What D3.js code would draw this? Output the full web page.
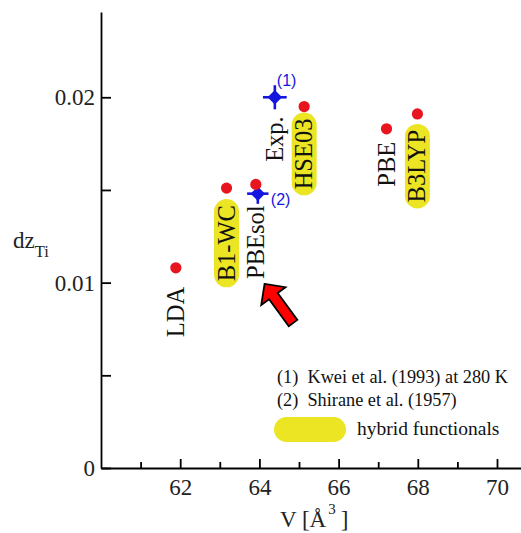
<!DOCTYPE html>
<html>
<head>
<meta charset="utf-8">
<script src="https://cdn.jsdelivr.net/npm/d3@7"></script>
<style>
  body { margin: 0; background: #fff; }
  svg { display: block; font-family: 'Liberation Serif', 'Times New Roman', serif; }
  .axis path, .axis line { stroke: #000; stroke-width: 1.8; }
  .axis text { font-family: 'Liberation Serif', serif; font-size: 23px; fill: #222; }
  .flabel { font-size: 24.5px; fill: #111; }
  .legend text { font-size: 18.3px; fill: #111; }
  .ref { font-family: 'Liberation Sans', Arial, sans-serif; font-size: 16px; fill: #1515e0; }
</style>
</head>
<body>
<svg width="521" height="533"></svg>
<script>
// calculated values, one per functional
const functionals = ['LDA', 'B1-WC', 'PBEsol', 'HSE03', 'PBE', 'B3LYP'];
const volumes = [61.89, 63.17, 63.91, 65.13, 67.21, 67.99];
const dzTi = [0.0108, 0.0151, 0.0153, 0.0195, 0.0183, 0.0191];
const isHybrid = [false, true, false, true, false, true];

// experiment
const expRefs = ['(1)', '(2)'];
const expVolumes = [64.39, 63.96];
const expDz = [0.0200, 0.0148];
const expVolErr = [0.3, 0.27];
const expDzErr = [0.00065, 0.00055];

const legendRefs = ['(1)  Kwei et al. (1993) at 280 K', '(2)  Shirane et al. (1957)'];

const xMajorTicks = [62, 64, 66, 68, 70];
const xMinorTicks = [61, 63, 65, 67, 69];
const yMajorTicks = [0, 0.01, 0.02];
const yMinorTicks = [0.005, 0.015];

// arrow pointing at PBEsol, [volume, dz] of tip and tail
const arrowTip = [64.13, 0.00993];
const arrowTail = [64.85, 0.00782];

// layout: gap (px) between a dot and the top of its label
const labelGap = [19, 17, 21, 12, 13, 16];

const svg = d3.select('svg');
const red = '#e8141e', blue = '#1515e0', yellow = '#ebe524';

const x = d3.scaleLinear().domain([60, 71]).range([101, 536.6]);
const y = d3.scaleLinear().domain([0, 0.0246]).range([468, 12]);

// axes, ticks inside
svg.append('g')
  .attr('class', 'axis')
  .attr('transform', 'translate(0,468)')
  .call(d3.axisBottom(x).tickValues(xMajorTicks).tickSizeInner(-9).tickSizeOuter(0).tickPadding(11).tickFormat(d3.format('d')));

svg.append('g')
  .attr('class', 'axis')
  .attr('transform', 'translate(0,468)')
  .call(d3.axisBottom(x).tickValues(xMinorTicks).tickSizeInner(-6).tickSizeOuter(0).tickFormat(''))
  .call(g => g.select('.domain').remove());

svg.append('g')
  .attr('class', 'axis')
  .attr('transform', 'translate(101,0)')
  .call(d3.axisLeft(y).tickValues(yMajorTicks).tickSizeInner(-10).tickSizeOuter(0).tickPadding(6).tickFormat(d => d === 0 ? '0' : d3.format('.2f')(d)));

svg.append('g')
  .attr('class', 'axis')
  .attr('transform', 'translate(101,0)')
  .call(d3.axisLeft(y).tickValues(yMinorTicks).tickSizeInner(-10).tickSizeOuter(0).tickFormat(''))
  .call(g => g.select('.domain').remove());

// axis titles
const yt = svg.append('text').attr('x', 13).attr('y', 248).attr('font-size', 23).attr('fill', '#222');
yt.append('tspan').text('dz');
yt.append('tspan').attr('font-size', 16.5).attr('dy', 9).text('Ti');

const xt = svg.append('text').attr('x', 280).attr('y', 527).attr('font-size', 23).attr('fill', '#222');
xt.append('tspan').text('V [Å');
xt.append('tspan').attr('font-size', 15).attr('dy', -13).attr('dx', 2).text('3');
xt.append('tspan').attr('dy', 13).attr('dx', 5).text(']');

// functional labels with yellow pills for hybrids
const rows = functionals.map((name, i) => ({
  name, v: volumes[i], dz: dzTi[i], hybrid: isHybrid[i], gap: labelGap[i]
}));

const lab = svg.selectAll('.lab')
  .data(rows)
  .enter()
  .append('g')
  .attr('class', 'lab')
  .attr('transform', d => `translate(${x(d.v)},${y(d.dz) + d.gap})`);

lab.append('rect').attr('fill', yellow);

lab.append('text')
  .attr('class', 'flabel')
  .attr('transform', 'rotate(-90)')
  .attr('text-anchor', 'end')
  .attr('dy', '0.33em')
  .text(d => d.name);

lab.each(function (d) {
  const len = d3.select(this).select('text').node().getComputedTextLength();
  d3.select(this).select('rect')
    .attr('display', d.hybrid ? null : 'none')
    .attr('x', -12.5)
    .attr('y', -6)
    .attr('width', 25)
    .attr('height', len + 12)
    .attr('rx', 12.5);
});

// "Exp." label below the first experimental point
svg.append('text')
  .attr('class', 'flabel')
  .attr('transform', `translate(${x(expVolumes[0])},${y(expDz[0]) + 19}) rotate(-90)`)
  .attr('text-anchor', 'end')
  .attr('dy', '0.33em')
  .text('Exp.');

// experimental points with error bars
const exp = expRefs.map((ref, i) => ({
  ref, v: expVolumes[i], dz: expDz[i], ev: expVolErr[i], ed: expDzErr[i]
}));

const eg = svg.selectAll('.exp')
  .data(exp)
  .enter()
  .append('g')
  .attr('class', 'exp');

eg.append('line')
  .attr('x1', d => x(d.v - d.ev)).attr('x2', d => x(d.v + d.ev))
  .attr('y1', d => y(d.dz)).attr('y2', d => y(d.dz))
  .attr('stroke', blue).attr('stroke-width', 2.6);

eg.append('line')
  .attr('x1', d => x(d.v)).attr('x2', d => x(d.v))
  .attr('y1', d => y(d.dz - d.ed)).attr('y2', d => y(d.dz + d.ed))
  .attr('stroke', blue).attr('stroke-width', 2.6);

eg.append('path')
  .attr('d', d3.symbol(d3.symbolSquare, 105))
  .attr('transform', d => `translate(${x(d.v)},${y(d.dz)}) rotate(45)`)
  .attr('fill', blue);

eg.append('text')
  .attr('class', 'ref')
  .attr('x', (d, i) => x(d.v) + (i === 0 ? 2 : 13))
  .attr('y', (d, i) => y(d.dz) + (i === 0 ? -11 : 11))
  .text(d => d.ref);

// calculated points, drawn over the experimental ones
svg.selectAll('.dot')
  .data(rows)
  .enter()
  .append('circle')
  .attr('class', 'dot')
  .attr('cx', d => x(d.v))
  .attr('cy', d => y(d.dz))
  .attr('r', 5.6)
  .attr('fill', red);

// block arrow
const tip = [x(arrowTip[0]), y(arrowTip[1])];
const tail = [x(arrowTail[0]), y(arrowTail[1])];
const len = Math.hypot(tip[0] - tail[0], tip[1] - tail[1]);
const u = [(tip[0] - tail[0]) / len, (tip[1] - tail[1]) / len];
const n = [-u[1], u[0]];
const headLen = 15, headHalf = 15, shaftHalf = 5.3;
const base = [tip[0] - u[0] * headLen, tip[1] - u[1] * headLen];
const pt = (p, k) => [p[0] + n[0] * k, p[1] + n[1] * k];
svg.append('polygon')
  .attr('points', [tip, pt(base, headHalf), pt(base, shaftHalf), pt(tail, shaftHalf),
    pt(tail, -shaftHalf), pt(base, -shaftHalf), pt(base, -headHalf)].map(p => p.join(',')).join(' '))
  .attr('fill', '#ff0000')
  .attr('stroke', '#000')
  .attr('stroke-width', 1.8)
  .attr('stroke-linejoin', 'miter');

// legend
const legend = svg.append('g').attr('class', 'legend').attr('transform', 'translate(277,383)');
legend.selectAll('.ref-line')
  .data(legendRefs)
  .enter()
  .append('text')
  .attr('class', 'ref-line')
  .attr('y', (d, i) => i * 23)
  .attr('xml:space', 'preserve')
  .style('white-space', 'pre')
  .text(d => d);

legend.append('rect')
  .attr('x', -3).attr('y', 34)
  .attr('width', 72).attr('height', 25).attr('rx', 12.5)
  .attr('fill', yellow);

legend.append('text')
  .attr('x', 80).attr('y', 52)
  .style('font-size', '19.5px')
  .text('hybrid functionals');
</script>
</body>
</html>
